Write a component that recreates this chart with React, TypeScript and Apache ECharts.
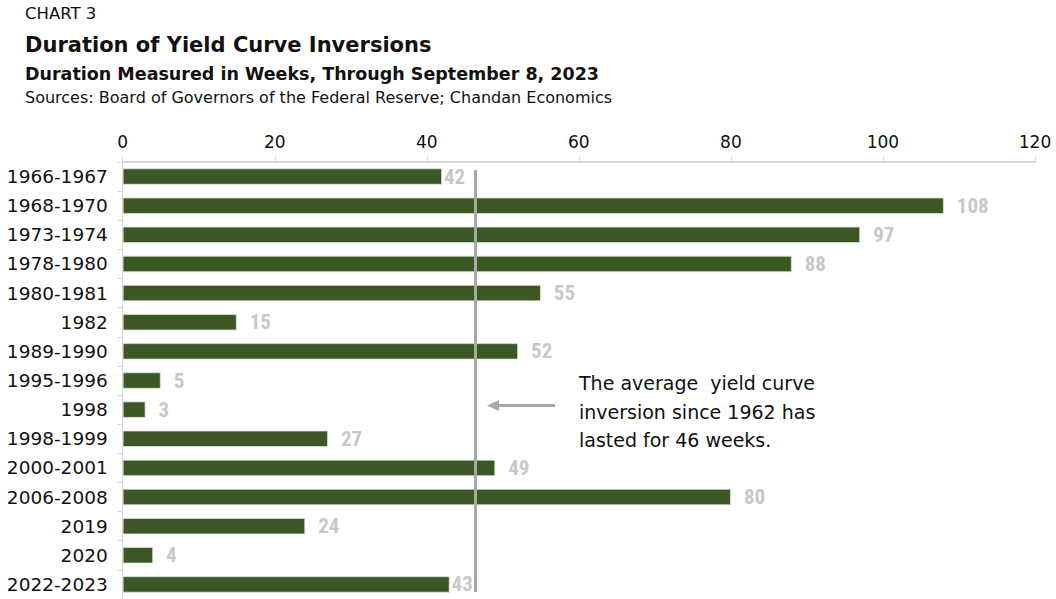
import React, { useEffect, useRef } from "react";
import * as echarts from "echarts";

const categories = [
  "1966-1967", "1968-1970", "1973-1974", "1978-1980", "1980-1981", "1982",
  "1989-1990", "1995-1996", "1998", "1998-1999", "2000-2001", "2006-2008",
  "2019", "2020", "2022-2023",
];
const weeks = [42, 108, 97, 88, 55, 15, 52, 5, 3, 27, 49, 80, 24, 4, 43];
const tightLabels = ["1966-1967", "2022-2023"];
const averageWeeks = 46.4;
const xTicks = [0, 20, 40, 60, 80, 100, 120];

const titleLines = {
  kicker: "CHART 3",
  title: "Duration of Yield Curve Inversions",
  subtitle: "Duration Measured in Weeks, Through September 8, 2023",
  source: "Sources: Board of Governors of the Federal Reserve; Chandan Economics",
};
const noteLines = [
  "The average  yield curve",
  "inversion since 1962 has",
  "lasted for 46 weeks.",
];

const WIDE = "'DejaVu Sans', 'Liberation Sans', sans-serif";
const NARROW = "'Liberation Sans Narrow', 'Roboto Condensed', 'DejaVu Sans Condensed', 'Liberation Sans', sans-serif";

export default function App() {
  const ref = useRef<HTMLDivElement>(null);
  useEffect(() => {
    if (!ref.current) return;
    const chart = echarts.init(ref.current, undefined, { renderer: "svg" });
    const option: any = {
      animation: false,
      backgroundColor: "#ffffff",
      grid: { left: 122.7, right: 21, top: 162, height: 440, containLabel: false },
      xAxis: {
        type: "value",
        position: "top",
        min: xTicks[0],
        max: xTicks[xTicks.length - 1],
        interval: 20,
        axisLine: { show: true, lineStyle: { color: "#d9d9d9", width: 2 } },
        axisTick: { show: true, inside: false, length: 6, lineStyle: { color: "#d9d9d9", width: 1 } },
        splitLine: { show: false },
        axisLabel: { color: "#111", fontSize: 17, fontFamily: WIDE, margin: 12 },
      },
      yAxis: {
        type: "category",
        inverse: true,
        data: categories,
        axisLine: { show: true, lineStyle: { color: "#d9d9d9", width: 1 } },
        axisTick: { show: true, length: 5, lineStyle: { color: "#d9d9d9" } },
        axisLabel: { color: "#111", fontSize: 18.5, fontFamily: WIDE, margin: 15 },
      },
      series: [
        {
          type: "bar",
          barCategoryGap: "44%",
          itemStyle: { color: "#3a5724", borderColor: "#e0e0e0", borderWidth: 0.8 },
          data: weeks.map((v, i) => ({
            value: v,
            label: {
              distance: tightLabels.includes(categories[i]) ? 2 : 13,
            },
          })),
          label: {
            show: true,
            position: "right",
            color: "#c8c8c8",
            fontSize: 21,
            fontWeight: "bold",
            fontFamily: NARROW,
          },
          markLine: {
            silent: true,
            symbol: ["none", "none"],
            label: { show: false },
            lineStyle: { color: "#a8a8a8", width: 3, type: "solid" },
            data: [
              [
                { coord: [averageWeeks, categories[0]], y: 170 },
                { coord: [averageWeeks, categories[categories.length - 1]], y: 592 },
              ],
            ],
          },
        },
      ],
      graphic: [
        { type: "text", left: 25, top: 5, style: { text: titleLines.kicker, font: `16.5px ${WIDE}`, fill: "#111" } },
        { type: "text", left: 25, top: 34, style: { text: titleLines.title, font: `bold 21px ${WIDE}`, fill: "#111" } },
        { type: "text", left: 25, top: 65, style: { text: titleLines.subtitle, font: `bold 17.5px ${WIDE}`, fill: "#111" } },
        { type: "text", left: 25, top: 89, style: { text: titleLines.source, font: `16px ${WIDE}`, fill: "#111" } },
        {
          type: "line",
          shape: { x1: 492, y1: 405.5, x2: 555, y2: 405.5 },
          style: { stroke: "#a8a8a8", lineWidth: 3 },
        },
        {
          type: "polygon",
          shape: { points: [[487, 405.5], [499, 400], [499, 411]] },
          style: { fill: "#a8a8a8" },
        },
        {
          type: "text",
          left: 579,
          top: 369,
          style: { text: noteLines.join("\n"), font: `19px ${WIDE}`, fill: "#111", lineHeight: 28.5 },
        },
      ],
    };
    chart.setOption(option);
    return () => chart.dispose();
  }, []);
  return (
    <div
      ref={ref}
      style={{ position: "absolute", left: 0, top: 0, width: 1056, height: 599 }}
    />
  );
}
